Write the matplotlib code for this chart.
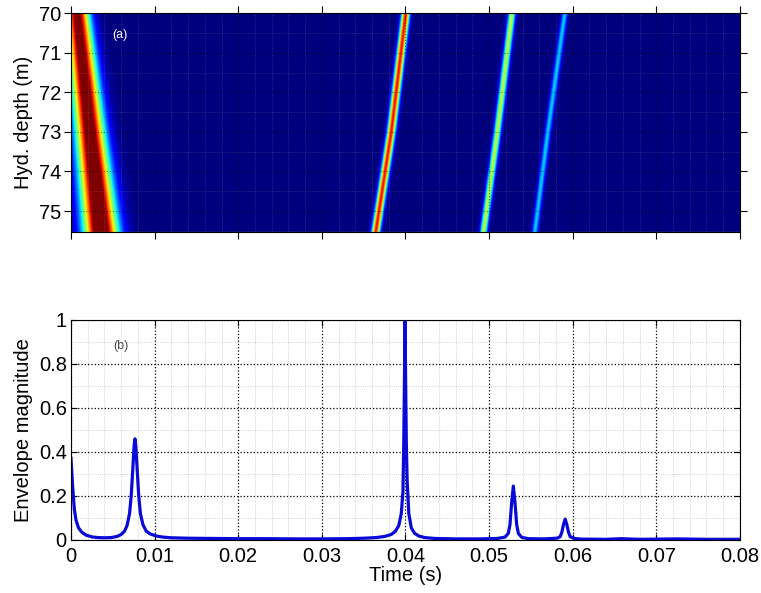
import numpy as np
import matplotlib
matplotlib.use('Agg')
import matplotlib.pyplot as plt
from matplotlib.ticker import MultipleLocator

# --- panel (a): arrival tracks ---
# depth nodes (m) and arrival-time centres (s) at those depths
track_depths = [70.0, 73.0, 75.53]
track_times = {
    'direct': [0.00072, 0.00225, 0.00356],
    'second': [0.04003, 0.03830, 0.03645],
    'third': [0.05274, 0.05100, 0.04935],
    'fourth': [0.05907, 0.05704, 0.05549],
}
track_amps = {
    'direct': [1.05, 1.12, 1.20],
    'second': [0.90, 0.90, 0.90],
    'third': [0.58, 0.58, 0.58],
    'fourth': [0.33, 0.33, 0.33],
}
track_widths = {
    'direct': [0.0010, 0.0012, 0.0014],
    'second': [0.00034, 0.00034, 0.00034],
    'third': [0.00030, 0.00030, 0.00030],
    'fourth': [0.00026, 0.00026, 0.00026],
}

# --- panel (b): envelope magnitude ---
env_time = [0, 0.0002, 0.0004, 0.0006, 0.0009, 0.0013, 0.0018, 0.0025, 0.0032,
            0.004, 0.0048, 0.0055, 0.006, 0.0064, 0.0067, 0.0070, 0.0072,
            0.0074, 0.00755, 0.00765, 0.00775, 0.0079, 0.0081, 0.0083, 0.0086,
            0.009, 0.0095, 0.0102, 0.011, 0.012, 0.014, 0.017, 0.02, 0.023,
            0.027, 0.03, 0.033, 0.035, 0.0365, 0.0375, 0.0383, 0.0388, 0.0392,
            0.0395, 0.0397, 0.0398, 0.0399, 0.03994, 0.0400, 0.0401, 0.0402,
            0.0404, 0.0407, 0.0411, 0.0416, 0.0423, 0.0435, 0.046, 0.049,
            0.051, 0.0519, 0.0523, 0.0525, 0.0527, 0.0529, 0.0531, 0.0533,
            0.0535, 0.0539, 0.0547, 0.0565, 0.0581, 0.0585, 0.0587, 0.0589,
            0.0591, 0.0593, 0.0595, 0.0597, 0.0602, 0.061, 0.064, 0.0658,
            0.068, 0.0725, 0.076, 0.08]
env_value = [0.37, 0.24, 0.14, 0.09, 0.055, 0.035, 0.022, 0.014, 0.011,
             0.010, 0.011, 0.016, 0.025, 0.04, 0.065, 0.12, 0.20,
             0.33, 0.43, 0.46, 0.43, 0.33, 0.20, 0.12, 0.07,
             0.04, 0.027, 0.018, 0.013, 0.010, 0.008, 0.007, 0.006, 0.006,
             0.005, 0.005, 0.006, 0.008, 0.011, 0.016, 0.025, 0.04, 0.065,
             0.12, 0.22, 0.45, 0.80, 1.0, 0.80, 0.45, 0.27,
             0.12, 0.055, 0.03, 0.018, 0.011, 0.007, 0.005, 0.005,
             0.007, 0.013, 0.03, 0.07, 0.17, 0.245, 0.17, 0.07,
             0.03, 0.012, 0.006, 0.005, 0.008, 0.015, 0.035, 0.07,
             0.095, 0.07, 0.035, 0.015, 0.007, 0.004, 0.003, 0.006,
             0.003, 0.005, 0.003, 0.003]

time_ticks = [0, 0.01, 0.02, 0.03, 0.04, 0.05, 0.06, 0.07, 0.08]
time_labels = ['0', '0.01', '0.02', '0.03', '0.04', '0.05', '0.06', '0.07', '0.08']
depth_ticks = [70, 71, 72, 73, 74, 75]
env_ticks = [0, 0.2, 0.4, 0.6, 0.8, 1]
env_labels = ['0', '0.2', '0.4', '0.6', '0.8', '1']


def main():
    plt.rcParams['font.family'] = ['Liberation Sans', 'DejaVu Sans']
    fs = 14.5
    fig = plt.figure(figsize=(7.61, 5.93), dpi=100)

    # ---------- (a) ----------
    ax1 = fig.add_axes([0.0933, 0.6088, 0.879, 0.369])
    t = np.linspace(0, 0.08, 1200)
    z = np.linspace(70, 75.53, 300)
    T, Z = np.meshgrid(t, z)
    field = np.zeros_like(T)
    for name in track_times:
        tc = np.interp(z, track_depths, track_times[name])[:, None]
        amp = np.interp(z, track_depths, track_amps[name])[:, None]
        sig = np.interp(z, track_depths, track_widths[name])[:, None]
        field = np.maximum(field, amp * np.exp(-(T - tc) ** 2 / (2 * sig ** 2)))
    ax1.imshow(field, extent=[0, 0.08, 75.53, 70], aspect='auto', cmap='jet',
               vmin=0, vmax=1, interpolation='bilinear')
    ax1.set_xlim(0, 0.08)
    ax1.set_ylim(75.53, 70)
    ax1.set_xticks(time_ticks)
    ax1.set_xticklabels([])
    ax1.set_yticks(depth_ticks)
    ax1.xaxis.set_minor_locator(MultipleLocator(0.002))
    ax1.yaxis.set_minor_locator(MultipleLocator(0.5))
    ax1.tick_params(which='major', direction='out', length=5, width=0.8,
                    top=True, right=True, labelsize=fs, pad=2)
    ax1.tick_params(which='minor', length=0)
    ax1.grid(which='major', color='k', linestyle=':', linewidth=0.8, alpha=0.5)
    ax1.grid(which='minor', color='0.7', linestyle=':', linewidth=0.6, alpha=0.3)
    ax1.set_ylabel('Hyd. depth (m)', fontsize=fs, labelpad=4)
    ax1.text(0.0059, 70.55, '(a)', color='white', fontsize=9,
             ha='center', va='center')

    # ---------- (b) ----------
    ax2 = fig.add_axes([0.0933, 0.0894, 0.879, 0.371])
    ax2.plot(env_time, env_value, color='#0a0ad8', linewidth=2.3)
    ax2.set_xlim(0, 0.08)
    ax2.set_ylim(0, 1)
    ax2.set_xticks(time_ticks)
    ax2.set_xticklabels(time_labels)
    ax2.set_yticks(env_ticks)
    ax2.set_yticklabels(env_labels)
    ax2.xaxis.set_minor_locator(MultipleLocator(0.002))
    ax2.yaxis.set_minor_locator(MultipleLocator(0.1))
    ax2.tick_params(which='major', direction='in', length=4, width=0.8,
                    top=True, right=True, labelsize=fs)
    ax2.tick_params(axis='x', which='major', pad=5)
    ax2.tick_params(axis='y', which='major', pad=3)
    ax2.tick_params(which='minor', length=0)
    ax2.grid(which='major', color='k', linestyle=':', linewidth=0.9)
    ax2.grid(which='minor', color='0.6', linestyle=':', linewidth=0.6, alpha=0.6)
    ax2.set_axisbelow(True)
    ax2.set_xlabel('Time (s)', fontsize=fs, labelpad=0)
    ax2.set_ylabel('Envelope magnitude', fontsize=fs, labelpad=4)
    ax2.text(0.006, 0.88, '(b)', color='0.3', fontsize=9,
             ha='center', va='center')

    fig.savefig('out.png', dpi=100)


if __name__ == '__main__':
    main()
